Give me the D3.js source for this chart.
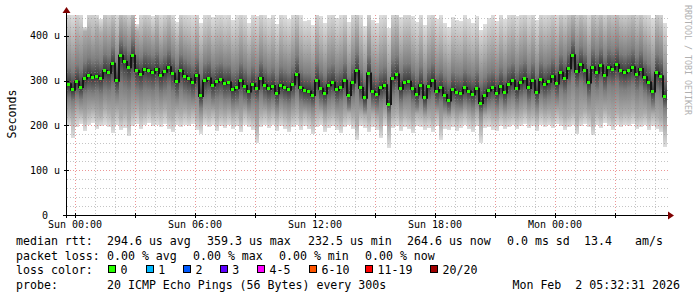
<!DOCTYPE html>
<html>
<head>
<meta charset="utf-8">
<script src="https://cdn.jsdelivr.net/npm/d3@7.9.0/dist/d3.min.js"></script>
<style>
  body { margin: 0; background: #fff; }
  svg text { font-family: 'DejaVu Sans Mono', monospace; white-space: pre; fill: #000; }
</style>
</head>
<body>
<svg id="chart" width="697" height="297"></svg>
<script>
// median rtt per 12 minute column, in microseconds
const median = [
  292, 280, 298, 286, 305, 312, 308, 310, 306, 322,
  318, 338, 300, 356, 342, 330, 356, 322, 315, 326,
  322, 318, 326, 312, 320, 330, 316, 298, 322, 310,
  304, 296, 312, 266, 300, 305, 290, 298, 302, 294,
  296, 280, 284, 300, 288, 276, 292, 282, 306, 290,
  282, 288, 272, 290, 284, 280, 292, 314, 284, 278,
  276, 268, 300, 282, 272, 290, 296, 280, 286, 300,
  268, 296, 322, 284, 262, 316, 276, 270, 284, 290,
  248, 306, 314, 282, 296, 298, 282, 270, 290, 262,
  288, 300, 276, 284, 268, 256, 280, 274, 272, 284,
  276, 270, 282, 250, 266, 278, 284, 272, 288, 274,
  292, 300, 282, 296, 304, 284, 300, 274, 302, 292,
  298, 310, 294, 318, 306, 328, 357, 320, 336, 324,
  296, 330, 318, 334, 312, 330, 326, 336, 322, 318,
  322, 330, 314, 326, 308, 296, 276, 318, 310, 265
];
// smoke: spread of the 20 pings in each column
const lo = [
  198, 172, 196, 204, 188, 200, 206, 192, 198, 202,
  196, 184, 200, 190, 194, 176, 198, 204, 192, 200,
  206, 198, 202, 196, 204, 192, 186, 200, 196, 202,
  198, 204, 190, 182, 200, 196, 202, 188, 198, 194,
  200, 192, 198, 186, 202, 196, 190, 160, 196, 200,
  194, 200, 188, 198, 192, 186, 196, 200, 190, 198,
  192, 180, 196, 200, 186, 194, 198, 190, 184, 196,
  200, 192, 168, 198, 194, 186, 196, 190, 172, 198,
  150, 194, 198, 188, 196, 192, 184, 198, 196, 190,
  194, 186, 198, 168, 192, 190, 196, 188, 194, 200,
  192, 186, 198, 162, 194, 196, 190, 188, 198, 192,
  196, 200, 192, 198, 204, 194, 198, 188, 202, 196,
  200, 194, 204, 198, 190, 196, 202, 180, 198, 204,
  196, 178, 200, 194, 206, 198, 190, 202, 196, 200,
  198, 204, 192, 196, 200, 190, 198, 192, 186, 152
];
const p10 = [
  224, 216, 232, 228, 220, 230, 234, 226, 222, 236,
  228, 220, 232, 218, 226, 214, 230, 236, 224, 228,
  234, 226, 232, 228, 236, 222, 218, 230, 226, 232,
  226, 232, 220, 212, 228, 224, 230, 218, 226, 222,
  228, 220, 226, 214, 230, 222, 218, 198, 226, 230,
  222, 228, 216, 226, 220, 214, 224, 230, 218, 226,
  220, 210, 226, 228, 214, 222, 226, 218, 212, 224,
  228, 220, 204, 226, 222, 214, 226, 218, 206, 226,
  196, 222, 228, 216, 224, 220, 212, 226, 224, 218,
  222, 214, 226, 204, 220, 218, 224, 216, 222, 228,
  220, 214, 226, 200, 222, 224, 218, 216, 226, 220,
  224, 228, 220, 226, 232, 222, 226, 216, 230, 224,
  228, 222, 232, 226, 218, 224, 230, 212, 226, 232,
  224, 210, 228, 222, 234, 226, 218, 230, 224, 228,
  226, 232, 220, 224, 228, 218, 226, 220, 214, 198
];
const p25 = [
  262, 254, 266, 258, 270, 274, 272, 276, 270, 280,
  276, 286, 268, 292, 284, 278, 294, 280, 274, 282,
  280, 276, 284, 272, 278, 286, 274, 262, 280, 270,
  266, 260, 272, 240, 264, 268, 256, 262, 266, 258,
  260, 248, 252, 264, 256, 246, 258, 250, 268, 256,
  250, 256, 242, 258, 252, 248, 258, 274, 252, 248,
  246, 240, 264, 250, 242, 256, 262, 248, 254, 264,
  240, 262, 282, 252, 236, 276, 246, 240, 252, 258,
  226, 268, 276, 250, 262, 264, 250, 240, 258, 236,
  256, 264, 246, 252, 240, 232, 250, 244, 242, 252,
  246, 240, 250, 228, 238, 248, 252, 242, 256, 244,
  258, 264, 250, 262, 268, 252, 264, 244, 266, 258,
  264, 272, 260, 280, 270, 288, 306, 282, 294, 286,
  262, 290, 280, 292, 276, 290, 286, 294, 282, 280,
  284, 290, 276, 286, 272, 262, 246, 278, 272, 238
];
const p75 = [
  330, 322, 336, 328, 344, 352, 346, 350, 344, 362,
  356, 376, 340, 392, 380, 368, 394, 360, 354, 366,
  362, 356, 366, 350, 358, 370, 354, 338, 360, 350,
  344, 336, 352, 318, 340, 346, 330, 338, 342, 334,
  336, 322, 326, 342, 330, 318, 334, 322, 346, 332,
  322, 330, 314, 332, 326, 320, 334, 356, 326, 318,
  318, 310, 342, 324, 312, 332, 338, 322, 328, 342,
  312, 340, 364, 326, 306, 356, 318, 312, 326, 332,
  296, 348, 356, 324, 338, 340, 324, 312, 332, 306,
  330, 342, 318, 326, 312, 302, 322, 316, 314, 326,
  318, 312, 324, 298, 308, 320, 326, 314, 330, 316,
  334, 342, 324, 338, 346, 326, 342, 316, 344, 334,
  340, 352, 336, 360, 348, 368, 392, 362, 376, 364,
  338, 372, 360, 374, 354, 372, 366, 376, 362, 358,
  364, 372, 354, 368, 348, 338, 318, 360, 352, 310
];
const p90 = [
  392, 380, 404, 396, 410, 414, 400, 418, 406, 420,
  412, 426, 398, 436, 428, 416, 438, 410, 404, 418,
  414, 402, 420, 396, 410, 424, 406, 388, 416, 400,
  396, 386, 408, 372, 394, 402, 384, 396, 398, 388,
  394, 378, 384, 402, 388, 372, 392, 380, 404, 390,
  378, 390, 368, 394, 382, 376, 392, 414, 384, 372,
  374, 362, 402, 380, 366, 392, 398, 378, 386, 402,
  366, 398, 420, 384, 360, 412, 372, 366, 384, 392,
  350, 406, 414, 380, 398, 400, 382, 368, 392, 360,
  388, 402, 374, 384, 366, 356, 380, 372, 370, 386,
  374, 366, 382, 352, 362, 378, 386, 370, 390, 374,
  394, 402, 382, 398, 406, 384, 402, 372, 404, 394,
  400, 412, 394, 418, 406, 424, 438, 416, 430, 420,
  396, 428, 416, 430, 410, 428, 422, 432, 418, 414,
  420, 428, 410, 424, 404, 394, 376, 418, 408, 366
];
const hi = [
  456, 448, 462, 452, 420, 458, 466, 450, 438, 470,
  460, 468, 452, 474, 466, 458, 472, 426, 454, 462,
  458, 444, 466, 450, 460, 468, 452, 432, 462, 456,
  452, 446, 460, 430, 454, 458, 442, 452, 456, 448,
  454, 436, 446, 460, 450, 428, 452, 444, 462, 450,
  440, 452, 426, 456, 446, 438, 454, 466, 446, 434,
  436, 424, 460, 444, 430, 452, 458, 440, 448, 460,
  432, 458, 468, 446, 422, 464, 436, 430, 446, 452,
  418, 462, 466, 442, 456, 458, 444, 432, 452, 424,
  450, 460, 438, 446, 430, 420, 442, 436, 434, 448,
  438, 430, 444, 414, 426, 440, 448, 434, 452, 438,
  454, 460, 444, 456, 462, 446, 460, 436, 462, 454,
  458, 466, 452, 470, 460, 472, 478, 466, 474, 468,
  454, 476, 466, 474, 462, 474, 470, 476, 466, 464,
  468, 474, 462, 470, 458, 452, 440, 466, 460, 430
];

const yTicks = [0, 100, 200, 300, 400];
const statLines = [
  ['median rtt:', '294.6 us avg', '359.3 us max', '232.5 us min', '264.6 us now', '0.0 ms sd', '13.4', 'am/s'],
  ['packet loss:', '0.00 % avg', '0.00 % max', '0.00 % min', '0.00 % now']
];
const lossLabels = ['0', '1', '2', '3', '4-5', '6-10', '11-19', '20/20'];
const lossColors = ['#26ff00', '#00b8ff', '#0059ff', '#5e00ff', '#ff00ff', '#ff5500', '#ff0000', '#a00000'];
const probeText = '20 ICMP Echo Pings (56 Bytes) every 300s';
const stampText = 'Mon Feb  2 05:32:31 2026';

const start = new Date(2026, 0, 31, 23, 36);
const times = median.map((d, i) => d3.timeMinute.offset(start, i * 12));
const end = d3.timeMinute.offset(start, median.length * 12);

const plotL = 67, plotR = 667, plotT = 15, plotB = 215;
const x = d3.scaleTime().domain([start, end]).range([plotL, plotR]);
const y = d3.scaleLinear().domain([0, 446.9]).range([plotB, plotT]);

const svg = d3.select('#chart');
svg.append('rect').attr('width', 697).attr('height', 297).attr('fill', '#fff');

const defs = svg.append('defs');
defs.append('clipPath').attr('id', 'plot')
  .append('rect').attr('x', plotL).attr('y', plotT).attr('width', plotR - plotL).attr('height', plotB - plotT);

// smoke shades: darkest at the median, fading out towards min / max
const shade = ['#383838', '#7e7e7e', '#adadad', '#dedede'];
function addGrad(id, inner, outer, up) {
  let g = defs.append('linearGradient').attr('id', id)
    .attr('x1', 0).attr('x2', 0).attr('y1', up ? 1 : 0).attr('y2', up ? 0 : 1);
  g.append('stop').attr('offset', 0).attr('stop-color', inner);
  g.append('stop').attr('offset', 1).attr('stop-color', outer);
}
for (let k = 0; k < 3; k++) {
  addGrad(`up${k}`, shade[k], shade[k + 1], true);
  addGrad(`dn${k}`, shade[k], shade[k + 1], false);
}

const smoke = svg.append('g').attr('clip-path', 'url(#plot)').attr('shape-rendering', 'crispEdges');

const colX = (i) => x(times[i]);
const colW = (i) => x(d3.timeMinute.offset(times[i], 12)) - x(times[i]);

// [from, to, gradient] segments; "from" is the edge nearer the median
let segments = [
  [p90, hi, 'up2'], [p10, lo, 'dn2'],
  [p75, p90, 'up1'], [p25, p10, 'dn1'],
  [median, p75, 'up0'], [median, p25, 'dn0']
];
segments.forEach(([a, b, grad]) => {
  smoke.selectAll(null)
    .data(median)
    .join('rect')
    .attr('x', (d, i) => colX(i))
    .attr('width', (d, i) => colW(i))
    .attr('y', (d, i) => Math.min(y(a[i]), y(b[i])))
    .attr('height', (d, i) => Math.abs(y(a[i]) - y(b[i])))
    .attr('fill', `url(#${grad})`);
});

// grid on top of the smoke, like rrdtool
const grid = svg.append('g').attr('shape-rendering', 'crispEdges').attr('stroke-dasharray', '1,2');
const minorY = d3.range(20, 447, 20).filter((v) => v % 100 != 0);
grid.selectAll('.hmin').data(minorY).join('line')
  .attr('x1', plotL).attr('x2', plotR + 1)
  .attr('y1', (d) => Math.round(y(d)) + 0.5).attr('y2', (d) => Math.round(y(d)) + 0.5)
  .attr('stroke', 'rgba(140,140,140,0.5)');
const hours = x.ticks(d3.timeHour.every(1)).filter((d) => d.getHours() % 3 != 0);
grid.selectAll('.vmin').data(hours).join('line')
  .attr('x1', (d) => Math.round(x(d)) + 0.5).attr('x2', (d) => Math.round(x(d)) + 0.5)
  .attr('y1', plotT).attr('y2', plotB)
  .attr('stroke', 'rgba(140,140,140,0.5)');
grid.selectAll('.hmaj').data(yTicks.slice(1)).join('line')
  .attr('x1', plotL).attr('x2', plotR + 1)
  .attr('y1', (d) => Math.round(y(d)) + 0.5).attr('y2', (d) => Math.round(y(d)) + 0.5)
  .attr('stroke', 'rgba(224,80,80,0.6)');
const majorX = x.ticks(d3.timeHour.every(3));
grid.selectAll('.vmaj').data(majorX).join('line')
  .attr('x1', (d) => Math.round(x(d)) + 0.5).attr('x2', (d) => Math.round(x(d)) + 0.5)
  .attr('y1', plotT).attr('y2', plotB)
  .attr('stroke', 'rgba(224,80,80,0.6)');

// median: dark step line plus green loss-colour boxes
const medLine = d3.line()
  .x((d, i) => colX(i) + colW(i) / 2)
  .y((d) => y(d))
  .curve(d3.curveStep);
svg.append('path')
  .attr('d', medLine(median))
  .attr('fill', 'none')
  .attr('stroke', '#161616')
  .attr('stroke-width', 2);
svg.append('g').attr('shape-rendering', 'crispEdges')
  .selectAll('rect').data(median).join('rect')
  .attr('x', (d, i) => colX(i))
  .attr('width', (d, i) => colW(i) - 1)
  .attr('y', (d) => y(d) - 1.5)
  .attr('height', 3)
  .attr('fill', lossColors[0]);

// axes
const axis = svg.append('g').attr('shape-rendering', 'crispEdges');
axis.append('line').attr('x1', 63).attr('x2', 670).attr('y1', plotB + 0.5).attr('y2', plotB + 0.5).attr('stroke', '#000');
axis.append('line').attr('x1', plotL - 0.5).attr('x2', plotL - 0.5).attr('y1', 218).attr('y2', 12).attr('stroke', '#000');
svg.append('path').attr('d', 'M668,211.5L674,215.5L668,219.5Z').attr('fill', '#7f0000');
svg.append('path').attr('d', 'M62.5,13L66.5,7L70.5,13Z').attr('fill', '#7f0000');
axis.selectAll('.yt').data(yTicks).join('line')
  .attr('x1', plotL - 3).attr('x2', plotL + 2)
  .attr('y1', (d) => Math.round(y(d)) + 0.5).attr('y2', (d) => Math.round(y(d)) + 0.5)
  .attr('stroke', '#000');
axis.selectAll('.xt').data(majorX).join('line')
  .attr('x1', (d) => Math.round(x(d)) + 0.5).attr('x2', (d) => Math.round(x(d)) + 0.5)
  .attr('y1', plotB - 2).attr('y2', plotB + 3)
  .attr('stroke', '#000');

svg.selectAll('.ylab').data(yTicks).join('text')
  .attr('x', (d) => d == 0 ? 48 : 60)
  .attr('y', (d) => y(d) + 3.5)
  .attr('text-anchor', 'end')
  .attr('font-size', 10)
  .text((d) => d == 0 ? '0' : `${d} u`);

const fmt = d3.timeFormat('%a %H:%M');
svg.selectAll('.xlab').data(x.ticks(d3.timeHour.every(6))).join('text')
  .attr('x', (d) => x(d))
  .attr('y', 228)
  .attr('text-anchor', 'middle')
  .attr('font-size', 10)
  .text((d) => fmt(d));

svg.append('text')
  .attr('transform', 'translate(16,114) rotate(-90)')
  .attr('text-anchor', 'middle')
  .attr('font-size', 11.6)
  .text('Seconds');

svg.append('text')
  .attr('transform', 'translate(685,5) rotate(90)')
  .attr('font-size', 8.3)
  .style('fill', '#b0b0b0')
  .text('RRDTOOL / TOBI OETIKER');

// legend
const statX = [
  [16, 107, 207, 308, 407, 507, 584, 635],
  [16, 107, 193, 279, 365]
];
const rowY = [245, 259.5, 274, 288.5];
statLines.forEach((items, r) => {
  items.forEach((t, k) => {
    svg.append('text').attr('x', statX[r][k]).attr('y', rowY[r]).attr('font-size', 11.6).text(t);
  });
});
svg.append('text').attr('x', 16).attr('y', rowY[2]).attr('font-size', 11.6).text('loss color:');
const boxX = [108, 145.7, 183, 219.7, 257, 309, 365, 430];
lossLabels.forEach((l, k) => {
  svg.append('rect')
    .attr('x', Math.round(boxX[k]) + 0.5).attr('y', 265.5)
    .attr('width', 7).attr('height', 7)
    .attr('fill', lossColors[k]).attr('stroke', '#000');
  svg.append('text').attr('x', boxX[k] + 12.5).attr('y', rowY[2]).attr('font-size', 11.6).text(l);
});
svg.append('text').attr('x', 16).attr('y', rowY[3]).attr('font-size', 11.6).text('probe:');
svg.append('text').attr('x', 107).attr('y', rowY[3]).attr('font-size', 11.6).text(probeText);
svg.append('text').attr('x', 680).attr('y', rowY[3]).attr('text-anchor', 'end').attr('font-size', 11.6).text(stampText);
</script>
</body>
</html>
